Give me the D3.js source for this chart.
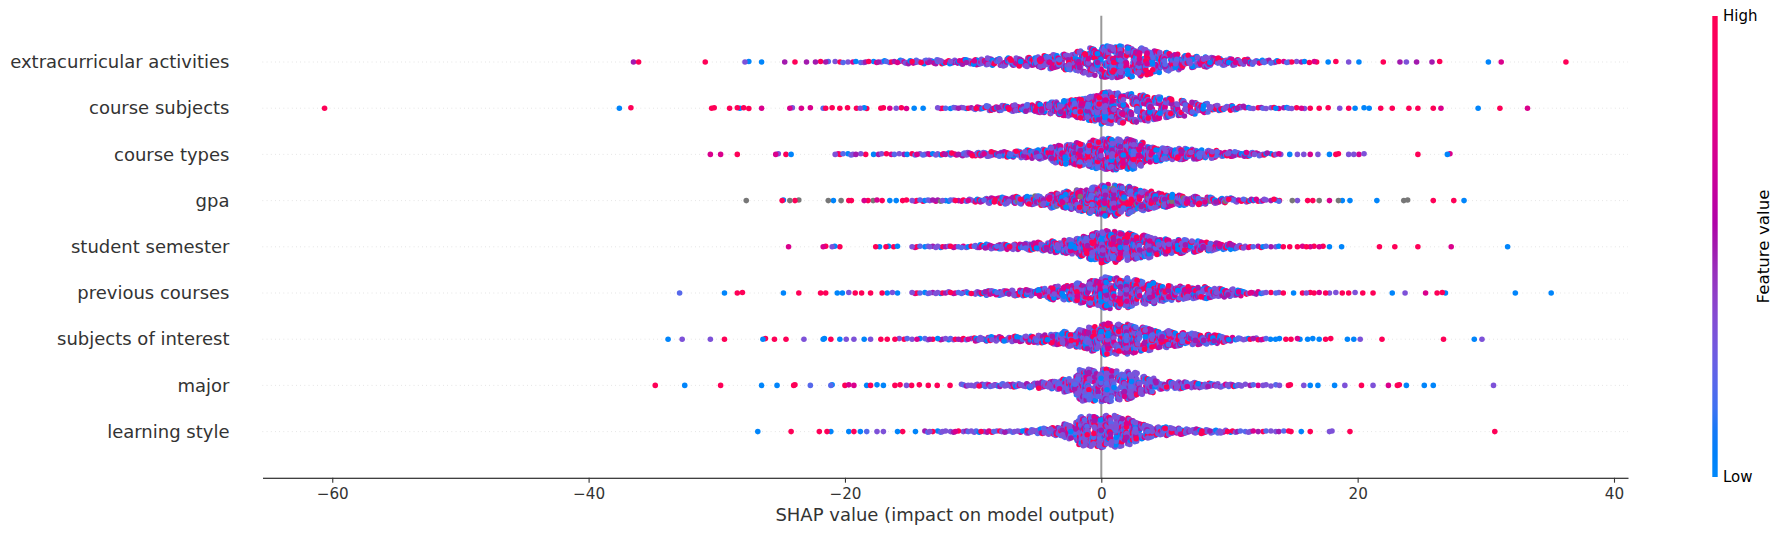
<!DOCTYPE html>
<html lang="en">
<head>
<meta charset="UTF-8">
<title>SHAP summary</title>
<script src="https://cdn.jsdelivr.net/npm/d3@7"></script>
<style>
    body { margin: 0; background: #fff; }
    text { font-family: "DejaVu Sans", sans-serif; }
</style>
</head>
<body>
<div id="chart"></div>
<script>

    // feature value shorthands (0 = low, 1 = high, null = missing)
    const B = 0.02, BP = 0.2, P = 0.32, M = 0.5, K = 0.72, R = 0.98, NA = null;

    // features, top row first
    const features = [
        "extracurricular activities", "course subjects", "course types", "gpa",
        "student semester", "previous courses", "subjects of interest", "major", "learning style"
    ];

    // single points outside the dense part: [shap value, feature value]
    const outliers = [
        [[-36.5, M], [-36.1, R], [-30.9, R], [-27.8, P], [-27.5, B], [-26.5, B], [-24.7, M], [-23.9, R], [-23.0, M], [-22.3, M], [-21.9, R], [-21.5, M], [-21.3, BP],
         [16.8, R], [17.7, B], [18.3, R], [19.3, P], [20.1, B], [22.0, R], [23.3, M], [23.8, P], [24.6, M], [25.8, M], [26.4, R], [30.2, B], [31.2, K], [36.25, R]],
        [[-60.6, R], [-37.6, B], [-36.7, R], [-30.4, R], [-30.2, R], [-29.0, R], [-28.4, R], [-28.2, B], [-27.9, R], [-27.5, R], [-26.5, K], [-24.3, K], [-24.1, P],
         [-23.4, K], [-22.7, K], [-21.7, BP], [-21.5, R], [-21.0, R], [-20.4, R], [-19.8, R], [-19.1, R], [-18.8, P], [-18.5, B], [-18.3, R], [-17.2, R], [-17.0, R],
         [-16.5, K], [-16.0, P], [-15.6, R], [-15.2, K], [-14.6, B], [-13.9, B],
         [16.3, R], [17.0, R], [17.7, R], [18.6, P], [19.3, R], [19.8, B], [20.5, B], [20.9, B], [21.8, R], [22.7, R], [24.0, R], [24.7, R], [25.9, R], [26.5, K],
         [29.4, B], [31.1, R], [33.25, K]],
        [[-30.5, K], [-29.7, K], [-28.4, R], [-25.4, K], [-25.2, P], [-24.6, R], [-24.2, B],
         [14.0, P], [14.7, B], [15.3, P], [15.8, P], [16.3, K], [16.9, P], [17.8, B], [18.3, R], [18.5, R], [19.3, P], [19.7, P], [20.1, K], [20.5, P], [24.7, R],
         [27.0, B], [27.2, K]],
        [[-27.7, NA], [-24.9, R], [-24.8, B], [-24.3, NA], [-23.9, R], [-23.6, NA], [-21.3, NA], [-20.9, B], [-20.3, NA], [-19.7, R], [-19.5, R], [-18.5, K],
         [-18.2, R], [-17.8, NA], [-17.5, K], [-17.1, R], [-16.5, B], [-16.0, B], [-15.5, R], [-15.2, R],
         [13.9, R], [14.9, NA], [15.3, P], [16.1, R], [16.5, R], [17.0, NA], [17.8, K], [18.5, NA], [18.8, B], [19.4, B], [21.5, B], [23.6, NA], [23.9, NA],
         [25.9, R], [27.5, R], [28.3, B]],
        [[-24.4, K], [-21.7, K], [-21.5, R], [-21.0, P], [-20.8, B], [-20.4, R], [-17.6, R], [-17.3, B], [-16.8, R], [-16.6, B], [-16.2, R], [-15.9, B],
         [14.2, R], [14.7, R], [15.3, R], [15.7, K], [16.0, R], [16.3, K], [16.6, R], [17.0, K], [17.3, R], [17.8, B], [18.75, B], [21.7, R], [22.9, R],
         [24.7, R], [27.3, K], [31.7, B]],
        [[-32.9, BP], [-29.4, B], [-28.4, R], [-28.0, R], [-24.8, B], [-23.6, R], [-21.9, R], [-21.5, R], [-20.6, B], [-20.2, B], [-19.7, P], [-19.2, R],
         [-18.7, R], [-18.0, R], [-17.1, R], [-16.7, B], [-16.3, P], [-15.9, B],
         [14.2, R], [15.0, B], [15.7, R], [16.0, P], [16.3, R], [16.6, R], [17.0, K], [17.5, R], [17.8, P], [18.3, P], [18.8, R], [19.3, R], [19.8, P],
         [20.4, R], [21.2, R], [22.7, B], [23.7, P], [25.3, K], [26.2, R], [26.6, R], [26.85, B], [32.3, B], [35.1, B]],
        [[-33.8, B], [-32.7, P], [-30.5, P], [-29.4, R], [-26.4, B], [-26.2, R], [-25.5, R], [-24.6, R], [-23.2, P], [-21.7, B], [-21.6, B], [-21.1, R],
         [-20.4, B], [-19.9, P], [-19.3, P], [-18.5, B], [-18.0, P], [-17.2, R], [-16.7, R], [-16.1, R],
         [13.2, B], [13.6, B], [13.9, B], [14.4, R], [14.8, R], [15.3, K], [15.5, B], [16.1, B], [16.5, B], [17.0, B], [17.5, R], [17.9, R], [19.2, B],
         [19.7, B], [20.2, P], [21.9, R], [26.7, R], [29.1, B], [29.7, P]],
        [[-34.8, R], [-32.5, B], [-29.7, R], [-26.5, B], [-25.3, B], [-24.0, R], [-23.9, R], [-22.7, BP], [-21.1, BP], [-21.0, B], [-20.0, R], [-19.7, K],
         [-19.3, K], [-18.3, B], [-18.0, R], [-17.5, B], [-17.0, B], [-16.1, R], [-15.7, R], [-15.2, P], [-14.8, R], [-14.2, R], [-13.5, R], [-12.8, R], [-11.8, R],
         [13.9, P], [14.6, R], [14.75, R], [15.8, P], [16.3, B], [16.9, B], [18.2, B], [19.0, P], [20.3, R], [21.2, P], [22.4, K], [23.1, R], [23.25, R],
         [23.8, B], [25.2, B], [25.9, B], [30.6, P]],
        [[-26.8, B], [-24.2, R], [-22.0, R], [-21.4, R], [-21.1, B], [-19.7, B], [-19.3, R], [-18.8, B], [-18.3, BP], [-17.5, P], [-17.0, P], [-15.9, B],
         [-15.5, R], [-14.5, B],
         [14.8, R], [15.6, B], [16.3, R], [17.8, P], [18.0, P], [19.4, R], [30.7, R]]
    ];

    // dense part: point counts per 1-unit shap bin, first bin starts at coreStart
    const coreStart = [-21, -13, -21, -15, -15, -15, -16, -11, -14];
    const coreCounts = [
        [3, 3, 4, 4, 5, 8, 9, 10, 10, 11, 12, 16, 18, 20, 22, 24, 30, 36, 44, 56, 74, 80, 80, 72, 64, 52, 42, 32, 27, 23, 19, 15, 12, 9, 6, 4, 3, 2],
        [4, 4, 5, 10, 15, 17, 18, 24, 30, 40, 48, 56, 72, 90, 84, 76, 70, 60, 50, 38, 30, 16, 13, 12, 5, 4, 4, 4, 3],
        [4, 4, 2, 3, 3, 3, 4, 5, 6, 7, 10, 12, 12, 14, 20, 24, 26, 50, 58, 62, 78, 86, 86, 80, 45, 36, 32, 30, 26, 22, 14, 13, 12, 8, 4],
        [4, 5, 5, 5, 6, 10, 16, 18, 20, 24, 30, 40, 50, 60, 76, 85, 80, 65, 50, 40, 32, 26, 22, 18, 14, 10, 8, 6, 4],
        [4, 4, 5, 5, 5, 10, 13, 14, 18, 20, 26, 34, 40, 56, 78, 90, 80, 70, 62, 44, 40, 38, 30, 23, 18, 13, 5, 4, 3],
        [4, 4, 5, 5, 5, 10, 13, 14, 16, 18, 24, 36, 42, 55, 74, 84, 80, 70, 61, 45, 38, 34, 32, 26, 23, 16, 8, 5, 3],
        [3, 3, 4, 4, 5, 5, 10, 13, 13, 15, 20, 22, 30, 40, 50, 72, 86, 80, 72, 61, 46, 42, 34, 30, 24, 18, 6, 5, 5],
        [5, 8, 8, 8, 10, 12, 20, 24, 40, 86, 90, 90, 80, 70, 45, 23, 20, 18, 15, 12, 8, 8, 3, 3, 2],
        [4, 4, 4, 4, 5, 5, 5, 6, 10, 17, 25, 40, 80, 82, 90, 80, 60, 35, 25, 20, 15, 12, 10, 7, 5, 4, 3, 3, 2]
    ];

    // feature value mix seen in each dense part, cycled over its points
    const mixA = [R, P, BP, K, P, B, M, BP, R, P, M, B, P, K, R, BP, M, P, B, K];
    const mixGpa = [R, P, BP, K, P, B, M, BP, R, P, M, B, NA, K, R, BP, M, P, B, K];
    const mixMajor = [P, BP, P, M, P, B, P, BP, R, P, M, P, BP, P, K];
    const mixStyle = [P, M, R, BP, P, B, P, BP, K, P, R, M, BP, P];
    const coreMix = [mixA, mixA, mixA, mixGpa, mixA, mixA, mixA, mixMajor, mixStyle];

    const xTicks = [-60, -40, -20, 0, 20, 40];

    // figure geometry
    const W = 1785, H = 536;
    const plot = {left: 262.5, right: 1628, top: 15.8, bottom: 477.8};
    const dotR = 2.78;

    // shap red_blue colormap (lch path from blue to red)
    function shapColor(t) {
        if (t == null) return "#777777";
        const l = t < 0.5 ? 54 - 28 * t : 40 + 28 * (t - 0.5);
        return d3.hcl(267 + t * 113.4, 70 + 20 * t, l).formatHex();
    }

    // points of every row
    const rows = features.map((name, i) => {
        const pts = outliers[i].map(d => ({v: d[0], fv: d[1]}));
        let j = 0;
        coreCounts[i].forEach((n, b) => {
            for (let k = 0; k < n; k++) {
                pts.push({v: coreStart[i] + b + ((k + 1) * 0.618034) % 1, fv: coreMix[i][j % coreMix[i].length]});
                j++;
            }
        });
        return pts;
    });

    // beeswarm stacking like shap: 100 bins, alternate up/down inside each bin
    function swarm(pts) {
        const lo = d3.min(pts, d => d.v), hi = d3.max(pts, d => d.v);
        pts.forEach((d, idx) => {
            d.q = Math.round(100 * (d.v - lo) / (hi - lo + 1e-8));
            d.idx = idx;
        });
        const order = pts.slice().sort((a, b) => a.q - b.q || a.idx - b.idx);
        let layer = 0, last = -1;
        order.forEach(d => {
            if (d.q !== last) layer = 0;
            d.off = Math.ceil(layer / 2) * ((layer % 2) * 2 - 1);
            layer++;
            last = d.q;
        });
        const m = d3.max(pts, d => d.off + 1);
        pts.forEach(d => d.off *= 0.9 * 0.4 / m);
    }
    rows.forEach(swarm);

    const ext = d3.extent(rows.flat(), d => d.v);
    const pad = (ext[1] - ext[0]) * 0.05;
    const x = d3.scaleLinear()
        .domain([ext[0] - pad, ext[1] + pad])
        .range([plot.left, plot.right]);
    const y = d3.scaleLinear()
        .domain([-1, features.length])
        .range([plot.bottom, plot.top]);
    const rowPos = i => features.length - 1 - i;

    const svg = d3.select("#chart")
        .append("svg")
        .attr("width", W)
        .attr("height", H);

    // zero line
    svg.append("line")
        .attr("x1", x(0)).attr("x2", x(0))
        .attr("y1", plot.top).attr("y2", plot.bottom)
        .attr("stroke", "#999999")
        .attr("stroke-width", 2);

    // dotted row guides
    svg.append("g")
        .selectAll("line")
        .data(features)
        .join("line")
        .attr("x1", plot.left).attr("x2", plot.right)
        .attr("y1", (d, i) => y(rowPos(i)))
        .attr("y2", (d, i) => y(rowPos(i)))
        .attr("stroke", "#cccccc")
        .attr("stroke-width", 0.7)
        .attr("stroke-dasharray", "0.7 3.5");

    // dots, drawn in a mixed order
    rows.forEach((pts, i) => {
        const drawn = pts.slice().sort((a, b) => ((a.idx * 0.618034) % 1) - ((b.idx * 0.618034) % 1));
        svg.append("g")
            .selectAll("circle")
            .data(drawn)
            .join("circle")
            .attr("cx", d => x(d.v))
            .attr("cy", d => y(rowPos(i) + d.off))
            .attr("r", dotR)
            .attr("fill", d => shapColor(d.fv));
    });

    // x axis
    const xAxis = d3.axisBottom(x)
        .tickValues(xTicks)
        .tickSize(4.9)
        .tickSizeOuter(0)
        .tickPadding(5.5);
    const gx = svg.append("g")
        .attr("transform", "translate(0," + plot.bottom + ")")
        .call(xAxis);
    gx.select(".domain").attr("stroke", "#000").attr("stroke-width", 1.1);
    gx.selectAll(".tick line").attr("stroke", "#333333").attr("stroke-width", 1.1);
    gx.selectAll(".tick text")
        .attr("fill", "#333333")
        .style("font-size", "15.2px")
        .style("font-family", "DejaVu Sans");

    svg.append("text")
        .attr("x", (plot.left + plot.right) / 2)
        .attr("y", 521)
        .attr("text-anchor", "middle")
        .attr("fill", "#333333")
        .style("font-size", "18px")
        .text("SHAP value (impact on model output)");

    // feature names
    const yAxis = d3.axisLeft(y)
        .tickValues(features.map((d, i) => rowPos(i)))
        .tickFormat(p => features[features.length - 1 - p])
        .tickSize(0)
        .tickPadding(33);
    const gy = svg.append("g")
        .attr("transform", "translate(" + plot.left + ",0)")
        .call(yAxis);
    gy.select(".domain").remove();
    gy.selectAll(".tick text")
        .attr("fill", "#333333")
        .style("font-size", "18px")
        .style("font-family", "DejaVu Sans");

    // colour bar
    const grad = svg.append("defs")
        .append("linearGradient")
        .attr("id", "cbar")
        .attr("x1", 0).attr("y1", 1).attr("x2", 0).attr("y2", 0);
    grad.selectAll("stop")
        .data(d3.range(0, 1.0001, 0.05))
        .join("stop")
        .attr("offset", d => d)
        .attr("stop-color", d => shapColor(d));
    const cb = {x: 1712.3, w: 5.4, top: 16, bottom: 477};
    svg.append("rect")
        .attr("x", cb.x).attr("y", cb.top)
        .attr("width", cb.w).attr("height", cb.bottom - cb.top)
        .attr("fill", "url(#cbar)");
    svg.append("text")
        .attr("x", 1723).attr("y", cb.top).attr("dy", "0.35em")
        .style("font-size", "15px")
        .text("High");
    svg.append("text")
        .attr("x", 1723).attr("y", cb.bottom).attr("dy", "0.35em")
        .style("font-size", "15px")
        .text("Low");
    svg.append("text")
        .attr("transform", "translate(1763," + (cb.top + cb.bottom) / 2 + ") rotate(-90)")
        .attr("text-anchor", "middle")
        .attr("dy", "0.35em")
        .style("font-size", "16.7px")
        .text("Feature value");

</script>
</body>
</html>
